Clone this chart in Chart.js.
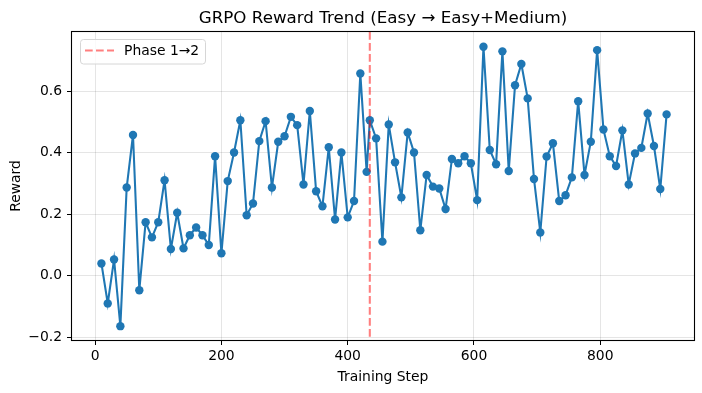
<!DOCTYPE html>
<html>
<head>
<meta charset="utf-8">
<script src="https://cdn.jsdelivr.net/npm/chart.js@4.4.1/dist/chart.umd.min.js"></script>
<style>
  html, body { margin: 0; padding: 0; background: #fff; }
  canvas { display: block; }
</style>
</head>
<body>
<canvas id="c" width="702" height="393"></canvas>
<script>
// ---- data ----
const titleText = "GRPO Reward Trend (Easy \u2192 Easy+Medium)";
const xLabel = "Training Step";
const yLabel = "Reward";
const legendLabel = "Phase 1\u21922";
const phaseStep = 435;

const steps = [
  10, 20, 30, 40, 50, 60, 70, 80, 90, 100,
  110, 120, 130, 140, 150, 160, 170, 180, 190, 200,
  210, 220, 230, 240, 250, 260, 270, 280, 290, 300,
  310, 320, 330, 340, 350, 360, 370, 380, 390, 400,
  410, 420, 430,
  435, 445, 455, 465, 475, 485, 495, 505, 515, 525,
  535, 545, 555, 565, 575, 585, 595, 605, 615, 625,
  635, 645, 655, 665, 675, 685, 695, 705, 715, 725,
  735, 745, 755, 765, 775, 785, 795, 805, 815, 825,
  835, 845, 855, 865, 875, 885, 895, 905
];
const rewards = [
  0.040, -0.090, 0.053, -0.164, 0.287, 0.458, -0.047, 0.174, 0.125, 0.174,
  0.311, 0.087, 0.205, 0.089, 0.132, 0.157, 0.132, 0.100, 0.389, 0.073,
  0.308, 0.401, 0.506, 0.197, 0.235, 0.438, 0.503, 0.287, 0.436, 0.454,
  0.517, 0.490, 0.297, 0.536, 0.275, 0.226, 0.418, 0.183, 0.401, 0.190,
  0.243, 0.658, 0.338,
  0.506, 0.447, 0.111, 0.492, 0.369, 0.255, 0.466, 0.401, 0.148, 0.328,
  0.290, 0.284, 0.217, 0.380, 0.366, 0.389, 0.366, 0.246, 0.745, 0.409,
  0.363, 0.730, 0.341, 0.620, 0.689, 0.577, 0.315, 0.141, 0.388, 0.431,
  0.243, 0.262, 0.320, 0.568, 0.328, 0.436, 0.734, 0.476, 0.389, 0.357,
  0.473, 0.297, 0.398, 0.416, 0.528, 0.422, 0.282, 0.525
];
const xTicks = [0, 200, 400, 600, 800];
const yTicks = [-0.2, 0.0, 0.2, 0.4, 0.6];

// ---- chart ----
const FONT = "'DejaVu Sans', 'Liberation Sans', sans-serif";
const phaseColor = "rgba(255,0,0,0.5)";
const dash = [7.7, 3.3];

const framePlugin = {
  id: 'framePlugin',
  afterDatasetsDraw(chart) {
    const {ctx, chartArea: a, scales} = chart;
    const px = scales.x.getPixelForValue(phaseStep);
    ctx.save();
    ctx.strokeStyle = phaseColor;
    ctx.lineWidth = 2.08;
    ctx.setLineDash(dash);
    ctx.beginPath();
    ctx.moveTo(px, a.top);
    ctx.lineTo(px, a.bottom);
    ctx.stroke();
    ctx.restore();
  },
  afterDraw(chart) {
    const {ctx, chartArea: a} = chart;
    ctx.save();
    // frame
    ctx.strokeStyle = '#000';
    ctx.lineWidth = 1.1;
    ctx.strokeRect(Math.round(a.left) - 0.5, Math.round(a.top) - 0.5,
                   Math.round(a.right - a.left) + 1, Math.round(a.bottom - a.top) + 1);
    // title
    ctx.fillStyle = '#000';
    ctx.font = "16.7px " + FONT;
    ctx.textAlign = 'center';
    ctx.textBaseline = 'alphabetic';
    ctx.fillText(titleText, (a.left + a.right) / 2, 23.3);
    // legend
    const lx = 80.5, ly = 39.5, lw = 125, lh = 24.5, r = 3;
    ctx.beginPath();
    ctx.moveTo(lx + r, ly);
    ctx.lineTo(lx + lw - r, ly);
    ctx.arcTo(lx + lw, ly, lx + lw, ly + r, r);
    ctx.lineTo(lx + lw, ly + lh - r);
    ctx.arcTo(lx + lw, ly + lh, lx + lw - r, ly + lh, r);
    ctx.lineTo(lx + r, ly + lh);
    ctx.arcTo(lx, ly + lh, lx, ly + lh - r, r);
    ctx.lineTo(lx, ly + r);
    ctx.arcTo(lx, ly, lx + r, ly, r);
    ctx.closePath();
    ctx.fillStyle = 'rgba(255,255,255,0.8)';
    ctx.fill();
    ctx.strokeStyle = '#d6d6d6';
    ctx.lineWidth = 1;
    ctx.stroke();
    ctx.strokeStyle = phaseColor;
    ctx.lineWidth = 2.08;
    ctx.setLineDash(dash);
    ctx.beginPath();
    ctx.moveTo(85, 50.5);
    ctx.lineTo(114, 50.5);
    ctx.stroke();
    ctx.setLineDash([]);
    ctx.fillStyle = '#000';
    ctx.font = "13.9px " + FONT;
    ctx.textAlign = 'left';
    ctx.textBaseline = 'middle';
    ctx.fillText(legendLabel, 124, 51.5);
    ctx.restore();
  }
};

const fmt = v => {
  const s = (Math.abs(v) < 1e-9 ? 0 : v).toFixed(1);
  return s.replace('-', '\u2212');
};

new Chart(document.getElementById('c'), {
  type: 'line',
  data: {
    datasets: [{
      label: 'reward',
      data: steps.map((s, i) => ({x: s, y: rewards[i]})),
      borderColor: '#1f77b4',
      backgroundColor: '#1f77b4',
      borderWidth: 2.08,
      pointRadius: 4.2,
      pointHoverRadius: 4.2,
      pointBorderWidth: 0,
      pointBackgroundColor: '#1f77b4',
      tension: 0,
      clip: false
    }]
  },
  options: {
    responsive: false,
    animation: false,
    devicePixelRatio: 1,
    layout: { padding: { top: 32, right: 8, left: 0, bottom: 0 } },
    plugins: {
      legend: { display: false },
      title: { display: false },
      tooltip: { enabled: false }
    },
    scales: {
      x: {
        type: 'linear',
        min: -36.6,
        max: 948.4,
        afterFit(scale) { scale.height = 53; },
        afterBuildTicks(scale) { scale.ticks = xTicks.map(v => ({value: v})); },
        ticks: {
          color: '#000',
          font: { family: FONT, size: 13.9 },
          padding: 3,
          maxRotation: 0,
          callback: v => String(v)
        },
        grid: {
          color: 'rgba(0,0,0,0.1)',
          lineWidth: 1,
          tickLength: 5,
          tickColor: '#000',
          tickWidth: 1
        },
        border: { display: false },
        title: {
          display: true,
          text: xLabel,
          color: '#000',
          font: { family: FONT, size: 13.9 },
          padding: { top: 0, bottom: 7.7 }
        }
      },
      y: {
        type: 'linear',
        min: -0.209,
        max: 0.793,
        afterFit(scale) { scale.width = 72; },
        afterBuildTicks(scale) { scale.ticks = yTicks.map(v => ({value: v})); },
        ticks: {
          color: '#000',
          font: { family: FONT, size: 13.9 },
          padding: 5,
          callback: v => fmt(v)
        },
        grid: {
          color: 'rgba(0,0,0,0.1)',
          lineWidth: 1,
          tickLength: 5,
          tickColor: '#000',
          tickWidth: 1
        },
        border: { display: false },
        title: {
          display: true,
          text: yLabel,
          color: '#000',
          font: { family: FONT, size: 13.9 },
          padding: { top: 8.4, bottom: 0 }
        }
      }
    }
  },
  plugins: [framePlugin]
});
</script>
</body>
</html>
